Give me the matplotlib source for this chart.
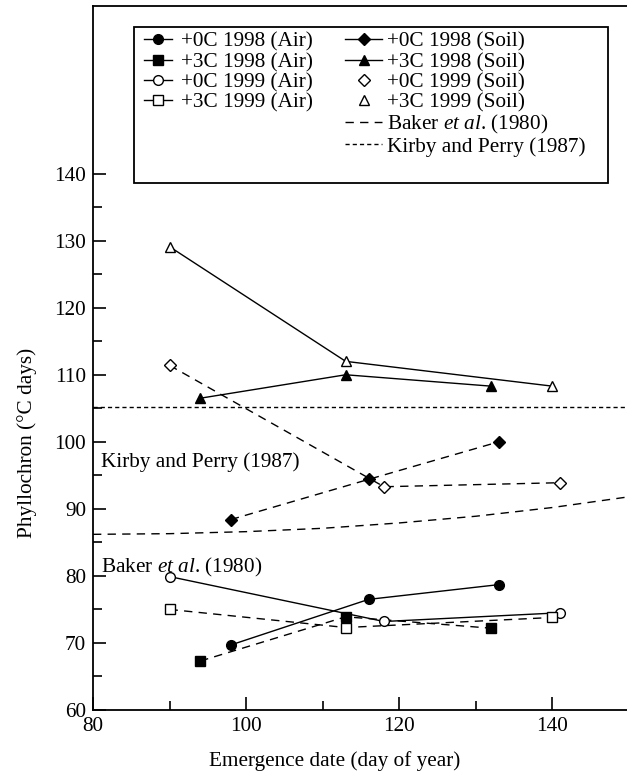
import matplotlib
matplotlib.use("Agg")
import matplotlib.pyplot as plt
from matplotlib.lines import Line2D
from matplotlib.patches import Rectangle

plt.rcParams['font.family'] = ['Liberation Serif', 'DejaVu Serif']
plt.rcParams['mathtext.fontset'] = 'custom'
plt.rcParams['mathtext.rm'] = 'Liberation Serif'
plt.rcParams['mathtext.it'] = 'Liberation Serif:italic'

# ---- data ----
x_0C98_air = [98, 116, 133]
y_0C98_air = [69.7, 76.5, 78.7]
x_3C98_air = [94, 113, 132]
y_3C98_air = [67.3, 73.9, 72.2]
x_0C99_air = [90, 118, 141]
y_0C99_air = [79.9, 73.2, 74.5]
x_3C99_air = [90, 113, 140]
y_3C99_air = [75.0, 72.3, 73.8]

x_0C98_soil = [98, 116, 133]
y_0C98_soil = [88.4, 94.4, 100.0]
x_3C98_soil = [94, 113, 132]
y_3C98_soil = [106.5, 110.0, 108.3]
x_0C99_soil = [90, 118, 141]
y_0C99_soil = [111.4, 93.3, 93.9]
x_3C99_soil = [90, 113, 140]
y_3C99_soil = [129.1, 112.0, 108.3]

baker_x = [80, 90, 100, 110, 120, 130, 140, 150]
baker_y = [86.2, 86.3, 86.6, 87.1, 87.9, 88.9, 90.2, 91.8]
kirby_y = 105.2

x_ticks = [80, 100, 120, 140]
x_minor = [90, 110, 130]
y_ticks = [60, 70, 80, 90, 100, 110, 120, 130, 140]
y_minor = [65, 75, 85, 95, 105, 115, 125, 135]

FS = 15.3
LW = 1.0
DASH = (0, (6, 4.5))
SHORT = (0, (3, 2.2))
MS_D = 6.3

fig = plt.figure(figsize=(6.27, 7.71), dpi=100)
ax = fig.add_axes([93 / 627, 61 / 771, 536 / 627, 704 / 771])

common = dict(color='black', lw=LW, mec='black', mew=1.0)

ax.plot(x_0C98_air, y_0C98_air, ls='-', marker='o', ms=7, mfc='black', **common)
ax.plot(x_3C98_air, y_3C98_air, ls=DASH, marker='s', ms=6.5, mfc='black', **common)
ax.plot(x_0C99_air, y_0C99_air, ls='-', marker='o', ms=7, mfc='white', **common)
ax.plot(x_3C99_air, y_3C99_air, ls=DASH, marker='s', ms=6.5, mfc='white', **common)

ax.plot(x_0C98_soil, y_0C98_soil, ls=DASH, marker='D', ms=MS_D, mfc='black', **common)
ax.plot(x_3C98_soil, y_3C98_soil, ls='-', marker='^', ms=7.5, mfc='black', **common)
ax.plot(x_0C99_soil, y_0C99_soil, ls=DASH, marker='D', ms=MS_D, mfc='white', **common)
ax.plot(x_3C99_soil, y_3C99_soil, ls='-', marker='^', ms=7.5, mfc='white', **common)

ax.plot(baker_x, baker_y, color='black', lw=LW, ls=DASH)
ax.axhline(kirby_y, color='black', lw=LW, ls=SHORT)

ax.text(81.1, 96.3, 'Kirby and Perry (1987)', fontsize=FS, ha='left', va='baseline')
ax.text(81.1, 80.5, r'Baker $\mathit{et\ al}$. (1980)', fontsize=FS, ha='left', va='baseline')

ax.set_xlim(80, 150)
ax.set_ylim(60, 165)
ax.set_xticks(x_ticks)
ax.set_xticks(x_minor, minor=True)
ax.set_yticks(y_ticks)
ax.set_yticks(y_minor, minor=True)
ax.tick_params(which='both', direction='in', labelsize=FS, width=1.2, top=False, right=False)
ax.tick_params(which='major', length=9.5, pad=5)
ax.tick_params(which='minor', length=6.5)
for s in ['left', 'bottom', 'top']:
    ax.spines[s].set_linewidth(1.3)
ax.spines['right'].set_visible(False)

ax.set_xlabel('Emergence date (day of year)', fontsize=FS)
ax.set_ylabel('Phyllochron (°C days)', fontsize=FS)
ax.xaxis.set_label_coords(0.45, -0.058)
ax.yaxis.set_label_coords(-0.104, 0.38)

# ---- legend ----
def h(marker, mfc, ls, ms):
    return Line2D([], [], color='black', lw=LW, ls=ls, marker=marker, ms=ms,
                  mfc=mfc, mec='black', mew=1.0)

col1_handles = [h('o', 'black', '-', 7), h('s', 'black', '-', 6.5),
                h('o', 'white', '-', 7), h('s', 'white', '-', 6.5)]
col1_labels = ['+0C 1998 (Air)', '+3C 1998 (Air)', '+0C 1999 (Air)', '+3C 1999 (Air)']
col2_handles = [h('D', 'black', '-', MS_D), h('^', 'black', '-', 7.5),
                h('D', 'white', 'None', MS_D), h('^', 'white', 'None', 7.5),
                h(None, 'none', DASH, 1), h(None, 'none', SHORT, 1)]
col2_labels = ['+0C 1998 (Soil)', '+3C 1998 (Soil)', '+0C 1999 (Soil)', '+3C 1999 (Soil)',
               r'Baker $\mathit{et\ al}$. (1980)', 'Kirby and Perry (1987)']

leg_kw = dict(loc='upper left', bbox_transform=fig.transFigure, frameon=False,
              fontsize=FS, borderpad=0, borderaxespad=0, labelspacing=0.02)
leg1 = ax.legend(col1_handles, col1_labels, bbox_to_anchor=(144 / 627, 1 - 32 / 771),
                 handlelength=1.3, handletextpad=0.42, **leg_kw)
leg1.set_zorder(6)
ax.add_artist(leg1)
leg2 = ax.legend(col2_handles, col2_labels, bbox_to_anchor=(345 / 627, 1 - 32 / 771),
                 handlelength=1.75, handletextpad=0.22, **leg_kw)
leg2.set_zorder(6)

ax.add_patch(Rectangle((134 / 627, 1 - 183 / 771), 474 / 627, 156 / 771,
                       transform=fig.transFigure, facecolor='white',
                       edgecolor='black', lw=1.3, zorder=5))

fig.savefig('out.png', dpi=100)
